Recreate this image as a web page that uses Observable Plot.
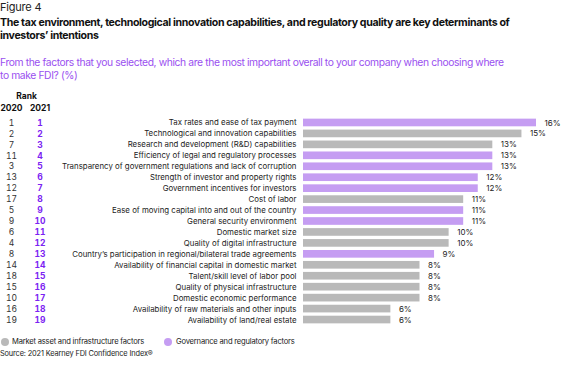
<!DOCTYPE html>
<html>
<head>
<meta charset="utf-8">
<script src="https://cdn.jsdelivr.net/npm/d3@7"></script>
<script src="https://cdn.jsdelivr.net/npm/@observablehq/plot@0.6"></script>
<style>
  html, body { margin: 0; padding: 0; background: #fff; }
  body { width: 580px; height: 365px; position: relative; overflow: hidden; font-family: Inter, "Noto Sans", sans-serif; color: #111; }
  .abs { position: absolute; left: 0; white-space: nowrap; }
  #fig { top: 0; font-size: 11px; line-height: 14px; color: #222; letter-spacing: -0.2px; }
  #title { top: 15.5px; font-size: 10.6px; line-height: 13px; font-weight: 700; letter-spacing: -0.35px; }
  #sub { top: 55.5px; font-size: 10.3px; line-height: 13px; color: #9a50f0; letter-spacing: -0.38px; }
  #chart { top: 88px; width: 580px; }
  #legend { top: 336px; width: 580px; font-size: 7.6px; line-height: 12px; color: #222; letter-spacing: -0.2px; }
  #legend span.item { position: absolute; top: 0; }
  #legend .dot { position: absolute; top: 2px; width: 8px; height: 8px; border-radius: 50%; }
  #source { top: 348px; font-size: 7.4px; line-height: 11px; color: #222; letter-spacing: -0.15px; }
</style>
</head>
<body>
<div id="fig" class="abs">Figure 4</div>
<div id="title" class="abs">The tax environment, technological innovation capabilities, and regulatory quality are key determinants of<br>investors’ intentions</div>
<div id="sub" class="abs">From the factors that you selected, which are the most important overall to your company when choosing where<br>to make FDI? (%)</div>
<div id="chart" class="abs"></div>
<div id="legend" class="abs"></div>
<div id="source" class="abs">Source: 2021 Kearney FDI Confidence Index®</div>
<script>
const factors = [
  "Tax rates and ease of tax payment",
  "Technological and innovation capabilities",
  "Research and development (R&D) capabilities",
  "Efficiency of legal and regulatory processes",
  "Transparency of government regulations and lack of corruption",
  "Strength of investor and property rights",
  "Government incentives for investors",
  "Cost of labor",
  "Ease of moving capital into and out of the country",
  "General security environment",
  "Domestic market size",
  "Quality of digital infrastructure",
  "Country’s participation in regional/bilateral trade agreements",
  "Availability of financial capital in domestic market",
  "Talent/skill level of labor pool",
  "Quality of physical infrastructure",
  "Domestic economic performance",
  "Availability of raw materials and other inputs",
  "Availability of land/real estate"
];
const values = [16, 15, 13, 13, 13, 12, 12, 11, 11, 11, 10, 10, 9, 8, 8, 8, 8, 6, 6];
const rank2020 = [1, 2, 7, 11, 3, 13, 12, 17, 5, 9, 6, 4, 8, 14, 18, 15, 10, 16, 19];
const rank2021 = [1, 2, 3, 4, 5, 6, 7, 8, 9, 10, 11, 12, 13, 14, 15, 16, 17, 18, 19];
const groups = ["G","M","M","G","G","G","G","M","G","G","M","M","G","M","M","M","M","M","M"];
const groupNames = {M: "Market asset and infrastructure factors", G: "Governance and regulatory factors"};
const groupColors = {M: "#b9b9b9", G: "#c59df2"};
const headerRank = "Rank";
const headerYears = ["2020", "2021"];

const rows = factors.map((f, i) => ({
  factor: f, value: values[i], r2020: rank2020[i], r2021: rank2021[i], group: groups[i]
}));

const font = "Inter, 'Noto Sans', sans-serif";
const colX = [11, 39.5]; // pixel centres of the rank columns
const ML = 303;
const MT = 29;
const headerStyle = {frameAnchor: "top-left", textAnchor: "middle", lineAnchor: "middle", fontSize: 8.5, fontWeight: 700, fill: "#111", letterSpacing: -0.2};

const chart = Plot.plot({
  width: 580,
  height: 245,
  marginLeft: ML,
  marginRight: 44,
  marginTop: MT,
  marginBottom: 8,
  style: {fontFamily: font, background: "transparent", overflow: "visible"},
  x: {domain: [0, 16], axis: null},
  y: {domain: factors, axis: null, paddingInner: 0.3, paddingOuter: 0.15, round: false},
  color: {domain: ["M", "G"], range: [groupColors.M, groupColors.G]},
  marks: [
    Plot.barX(rows, {x: "value", y: "factor", fill: "group"}),
    Plot.text(rows, {x: "value", y: "factor", text: d => d.value + "%", dx: 8, textAnchor: "start", fontSize: 8, fill: "#222", letterSpacing: -0.2}),
    Plot.text(rows, {y: "factor", frameAnchor: "left", text: "factor", dx: -7, textAnchor: "end", fontSize: 7.85, fill: "#222", letterSpacing: -0.15}),
    Plot.text(rows, {y: "factor", frameAnchor: "left", text: "r2020", dx: colX[0] - ML, textAnchor: "middle", fontSize: 8.5, fill: "#333"}),
    Plot.text(rows, {y: "factor", frameAnchor: "left", text: "r2021", dx: colX[1] - ML, textAnchor: "middle", fontSize: 8.5, fontWeight: 700, fill: "#7b22f2"}),
    Plot.text([headerRank], {...headerStyle, text: d => d, dx: 26 - ML, dy: 8 - MT}),
    Plot.text([headerYears[0]], {...headerStyle, text: d => d, dx: colX[0] - ML, dy: 20 - MT}),
    Plot.text([headerYears[1]], {...headerStyle, text: d => d, dx: colX[1] - ML, dy: 20 - MT})
  ]
});
document.getElementById("chart").appendChild(chart);

const legend = document.getElementById("legend");
[["M", 1, 12], ["G", 164, 176]].forEach(([g, dotX, textX]) => {
  const dot = document.createElement("span");
  dot.className = "dot"; dot.style.left = dotX + "px"; dot.style.background = groupColors[g];
  legend.appendChild(dot);
  const t = document.createElement("span");
  t.className = "item"; t.style.left = textX + "px"; t.textContent = groupNames[g];
  legend.appendChild(t);
});
</script>
</body>
</html>
